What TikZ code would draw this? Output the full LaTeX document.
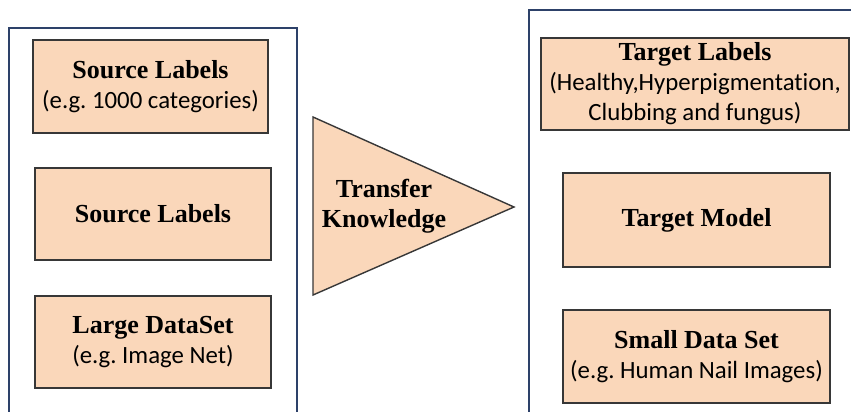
\documentclass[tikz,border=0pt]{standalone}
\usepackage{fontspec}
\setmainfont{Liberation Serif}
\newfontfamily\calib[Ligatures=NoCommon]{Carlito}
\usepackage{tikz}
\usepackage{xcolor}
\usetikzlibrary{positioning}
\definecolor{peach}{RGB}{250, 215, 186}
\definecolor{boxgray}{RGB}{55, 55, 55}
\definecolor{frameblue}{RGB}{45, 65, 105}
\tikzset{
  box/.style={draw=boxgray, fill=peach, line width=0.7pt, align=center,
              inner sep=2pt, font=\fontsize{13}{15}\selectfont},
  frame/.style={draw=frameblue, line width=0.6pt},
}
\newcommand{\sub}[1]{{\calib\fontsize{12.4}{14.5}\selectfont #1}}
\frenchspacing

\begin{document}
\begin{tikzpicture}[x=0.5pt, y=-0.5pt]
  \useasboundingbox (0,0) rectangle (851,412);
  \clip (0,0) rectangle (851,412);

  % source side
  \draw[frame] (9,430) -- (9,28) -- (297,28) -- (297,430);
  \node[box, minimum width=117.5pt, minimum height=46.5pt] (srclabels) at (150.5,86.5)
    {\textbf{Source Labels}\\\sub{(e.g. 1000 categories)}};
  \node[box, minimum width=118pt, minimum height=46pt] (srcmodel) at (153,214)
    {\textbf{Source Labels}};
  \node[box, minimum width=118pt, minimum height=46pt] (largedata) at (153,342)
    {\textbf{Large DataSet}\\\sub{(e.g. Image Net)}};

  % transfer arrow
  \coordinate (tritop) at (313,117);
  \coordinate (tribot) at (313,295);
  \coordinate (tritip) at (514,207);
  \draw[draw=boxgray, fill=peach, line width=0.7pt] (tritop) -- (tritip) -- (tribot) -- cycle;
  \node[align=center, font=\fontsize{13}{15}\selectfont\bfseries] (transfer) at (384,206)
    {Transfer\\Knowledge};

  % target side
  \draw[frame] (529,430) -- (529,10) -- (860,10);
  \node[box, minimum width=154pt, minimum height=46pt] (tgtlabels) at (695,84)
    {\textbf{Target Labels}\\\sub{(Healthy,Hyperpigmentation,}\\\sub{Clubbing and fungus)}};
  \node[box, minimum width=133.5pt, minimum height=47pt] (tgtmodel) at (696.5,220)
    {\textbf{Target Model}};
  \node[box, minimum width=133.5pt, minimum height=46.5pt] (smalldata) at (696.5,356.5)
    {\textbf{Small Data Set}\\\sub{(e.g. Human Nail Images)}};
\end{tikzpicture}
\end{document}
